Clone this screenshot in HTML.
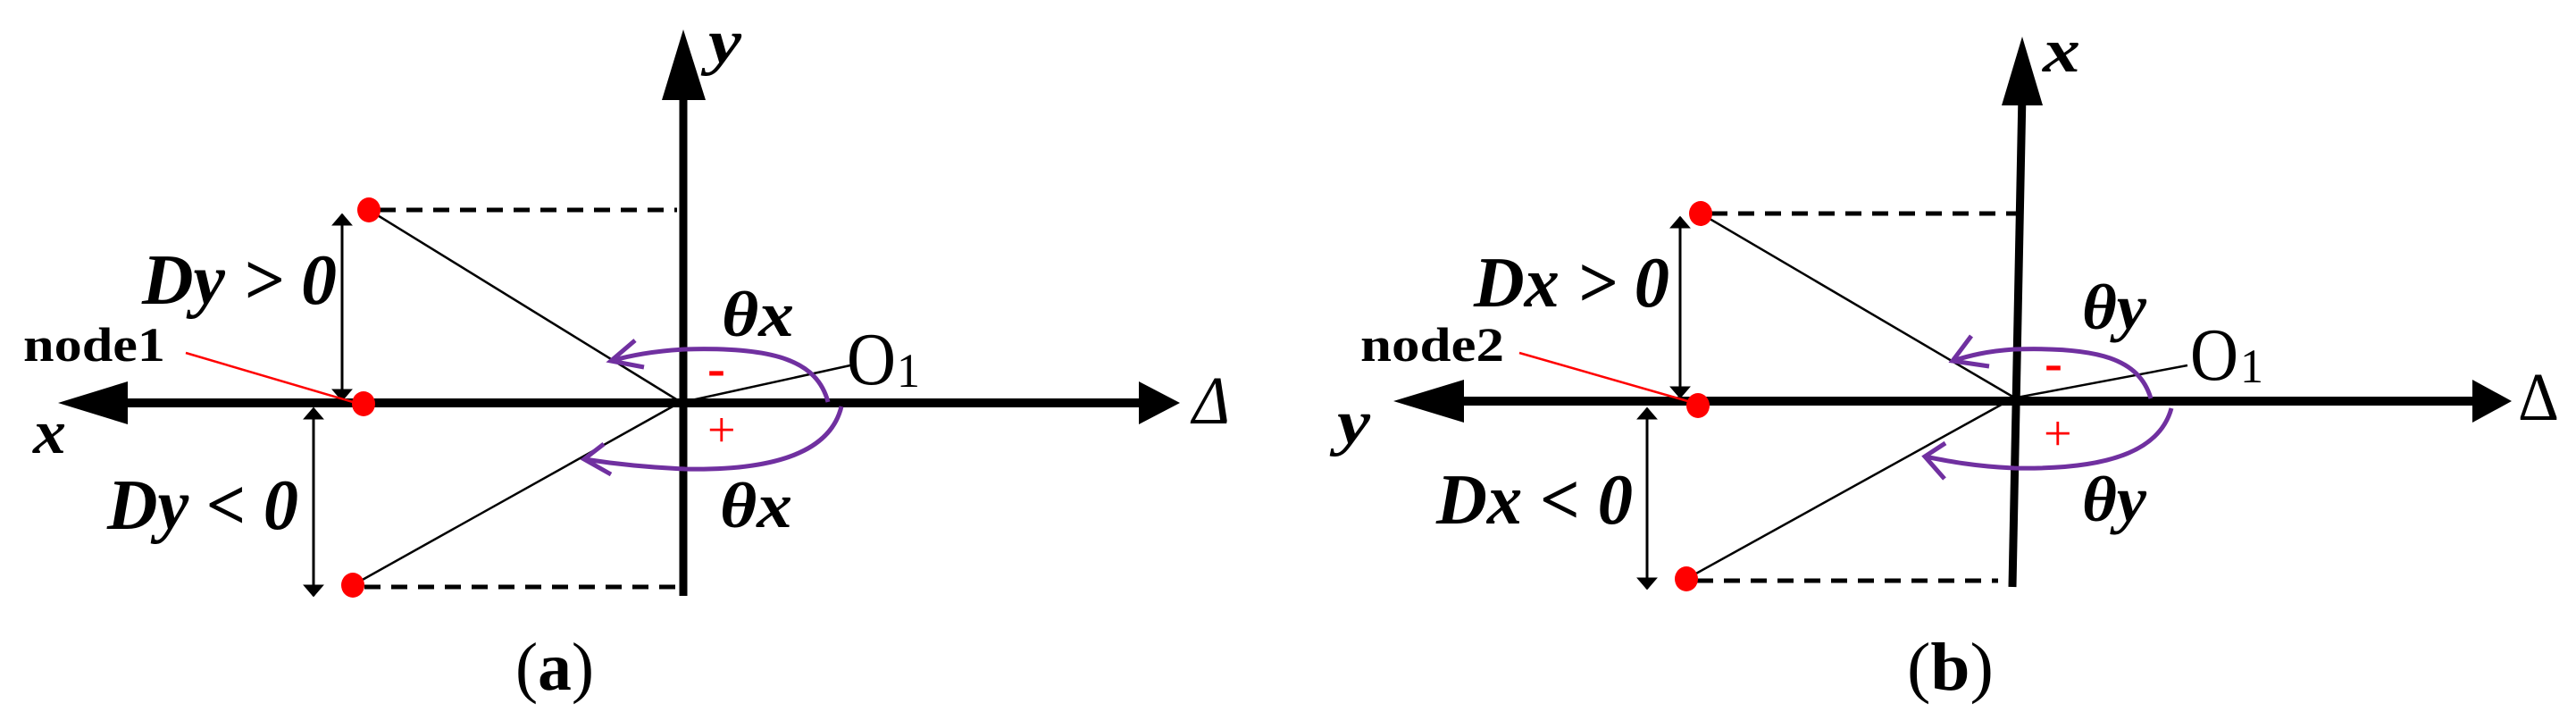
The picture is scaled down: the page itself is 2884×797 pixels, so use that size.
<!DOCTYPE html>
<html><head><meta charset="utf-8"><style>
html,body{margin:0;padding:0;background:#fff;}
svg{display:block;}
svg text{font-family:"Liberation Serif","Times New Roman","DejaVu Serif",serif !important;}
</style></head><body>
<svg width="2884" height="797" viewBox="0 0 2884 797" xmlns="http://www.w3.org/2000/svg" font-family="Liberation Serif, serif">
<defs>
<marker id="sa" viewBox="0 0 10 10" refX="9" refY="5" markerWidth="14" markerHeight="24" markerUnits="userSpaceOnUse" orient="auto-start-reverse" preserveAspectRatio="none"><path d="M0,0 L10,5 L0,10 z" fill="#000"/></marker>
</defs>

<!-- ===== Panel (a) ===== -->
<g>
<line x1="765" y1="100" x2="765" y2="667" stroke="#000" stroke-width="9"/>
<polygon points="765,33 741,112 790,112" fill="#000"/>
<line x1="135" y1="451" x2="1285" y2="451" stroke="#000" stroke-width="10"/>
<polygon points="65,451 143,427 143,475" fill="#000"/>
<polygon points="1321,451 1275,427 1275,475" fill="#000"/>
<line x1="425" y1="235" x2="758" y2="235" stroke="#000" stroke-width="5" stroke-dasharray="18,12"/>
<line x1="408" y1="657" x2="758" y2="657" stroke="#000" stroke-width="5" stroke-dasharray="18,12"/>
<line x1="413" y1="235" x2="762" y2="450" stroke="#000" stroke-width="2.5"/>
<line x1="395" y1="655" x2="762" y2="450" stroke="#000" stroke-width="2.5"/>
<line x1="765" y1="450" x2="952" y2="409" stroke="#000" stroke-width="2.5"/>
<line x1="383" y1="240" x2="383" y2="448" stroke="#000" stroke-width="3" marker-start="url(#sa)" marker-end="url(#sa)"/>
<line x1="351" y1="457" x2="351" y2="667" stroke="#000" stroke-width="3" marker-start="url(#sa)" marker-end="url(#sa)"/>
<line x1="208" y1="395" x2="395" y2="450" stroke="#f00" stroke-width="2.5"/>
<path d="M927,450 C915,405 870,388 767,391 C730,393 705,398 684,404" fill="none" stroke="#7030a0" stroke-width="5"/>
<polyline points="711,381 684,404 721,411" fill="none" stroke="#7030a0" stroke-width="5"/>
<path d="M942,455 C930,505 870,527 767,525 C720,523 680,518 654,514" fill="none" stroke="#7030a0" stroke-width="5"/>
<polyline points="684,531 654,514 676,497" fill="none" stroke="#7030a0" stroke-width="5"/>
<ellipse cx="413" cy="235" rx="13" ry="14" fill="#f00"/>
<ellipse cx="407" cy="452" rx="13" ry="14" fill="#f00"/>
<ellipse cx="395" cy="655" rx="13" ry="14" fill="#f00"/>
<text x="159" y="340" font-size="80" font-weight="bold" font-style="italic" textLength="218" lengthAdjust="spacingAndGlyphs">Dy &gt; 0</text>
<text x="120" y="592" font-size="80" font-weight="bold" font-style="italic" textLength="214" lengthAdjust="spacingAndGlyphs">Dy &lt; 0</text>
<text x="26" y="404" font-size="54" font-weight="bold" textLength="159" lengthAdjust="spacingAndGlyphs">node1</text>
<text x="808" y="376" font-size="72" font-weight="bold" font-style="italic" textLength="81" lengthAdjust="spacingAndGlyphs">θx</text>
<text x="806" y="590" font-size="72" font-weight="bold" font-style="italic" textLength="81" lengthAdjust="spacingAndGlyphs">θx</text>
<text x="792" y="432" font-size="60" font-weight="bold" fill="#f00">-</text>
<text x="792" y="500" font-size="56" fill="#f00">+</text>
<text x="948" y="430" font-size="84" textLength="55" lengthAdjust="spacingAndGlyphs">O</text>
<text x="1004" y="433" font-size="54" textLength="26" lengthAdjust="spacingAndGlyphs">1</text>
<text x="1335" y="474" font-size="76" font-style="italic" textLength="42" lengthAdjust="spacingAndGlyphs">Δ</text>
<text x="37" y="507" font-size="70" font-weight="bold" font-style="italic" textLength="37" lengthAdjust="spacingAndGlyphs">x</text>
<text x="793" y="70" font-size="70" font-weight="bold" font-style="italic" textLength="37" lengthAdjust="spacingAndGlyphs">y</text>
<text x="577" y="772" font-size="76" textLength="88" lengthAdjust="spacingAndGlyphs">(<tspan font-weight="bold">a</tspan>)</text>
</g>

<!-- ===== Panel (b) ===== -->
<g>
<line x1="2264" y1="105" x2="2253" y2="657" stroke="#000" stroke-width="9"/>
<polygon points="2264,41 2241,118 2287,118" fill="#000"/>
<line x1="1630" y1="449" x2="2775" y2="449" stroke="#000" stroke-width="10"/>
<polygon points="1560,449 1639,425 1639,473" fill="#000"/>
<polygon points="2812,449 2768,425 2768,473" fill="#000"/>
<line x1="1916" y1="239" x2="2262" y2="239" stroke="#000" stroke-width="5" stroke-dasharray="18,12"/>
<line x1="1900" y1="650" x2="2237" y2="650" stroke="#000" stroke-width="5" stroke-dasharray="18,12"/>
<line x1="1904" y1="239" x2="2255" y2="445" stroke="#000" stroke-width="2.5"/>
<line x1="1888" y1="648" x2="2255" y2="445" stroke="#000" stroke-width="2.5"/>
<line x1="2258" y1="445" x2="2449" y2="409" stroke="#000" stroke-width="2.5"/>
<line x1="1881" y1="243" x2="1881" y2="445" stroke="#000" stroke-width="3" marker-start="url(#sa)" marker-end="url(#sa)"/>
<line x1="1844" y1="457" x2="1844" y2="659" stroke="#000" stroke-width="3" marker-start="url(#sa)" marker-end="url(#sa)"/>
<line x1="1701" y1="395" x2="1893" y2="450" stroke="#f00" stroke-width="2.5"/>
<path d="M2408,446 C2395,402 2350,388 2255,391 C2225,393 2205,398 2186,404" fill="none" stroke="#7030a0" stroke-width="5"/>
<polyline points="2207,376 2186,404 2227,410" fill="none" stroke="#7030a0" stroke-width="5"/>
<path d="M2431,457 C2418,505 2360,526 2255,524 C2210,522 2180,516 2155,511" fill="none" stroke="#7030a0" stroke-width="5"/>
<polyline points="2177,536 2155,511 2178,496" fill="none" stroke="#7030a0" stroke-width="5"/>
<ellipse cx="1904" cy="239" rx="13" ry="14" fill="#f00"/>
<ellipse cx="1901" cy="454" rx="13" ry="14" fill="#f00"/>
<ellipse cx="1888" cy="648" rx="13" ry="14" fill="#f00"/>
<text x="1650" y="343" font-size="80" font-weight="bold" font-style="italic" textLength="219" lengthAdjust="spacingAndGlyphs">Dx &gt; 0</text>
<text x="1608" y="586" font-size="80" font-weight="bold" font-style="italic" textLength="220" lengthAdjust="spacingAndGlyphs">Dx &lt; 0</text>
<text x="1523" y="404" font-size="54" font-weight="bold" textLength="161" lengthAdjust="spacingAndGlyphs">node2</text>
<text x="2331" y="368" font-size="72" font-weight="bold" font-style="italic" textLength="72" lengthAdjust="spacingAndGlyphs">θy</text>
<text x="2331" y="583" font-size="72" font-weight="bold" font-style="italic" textLength="72" lengthAdjust="spacingAndGlyphs">θy</text>
<text x="2289" y="426" font-size="60" font-weight="bold" fill="#f00">-</text>
<text x="2288" y="504" font-size="56" fill="#f00">+</text>
<text x="2452" y="425" font-size="84" textLength="54" lengthAdjust="spacingAndGlyphs">O</text>
<text x="2508" y="428" font-size="54" textLength="26" lengthAdjust="spacingAndGlyphs">1</text>
<text x="2819" y="470" font-size="76" textLength="46" lengthAdjust="spacingAndGlyphs">Δ</text>
<text x="1497" y="496" font-size="70" font-weight="bold" font-style="italic" textLength="37" lengthAdjust="spacingAndGlyphs">y</text>
<text x="2287" y="80" font-size="70" font-weight="bold" font-style="italic" textLength="42" lengthAdjust="spacingAndGlyphs">x</text>
<text x="2135" y="772" font-size="76" textLength="97" lengthAdjust="spacingAndGlyphs">(<tspan font-weight="bold">b</tspan>)</text>
</g>
</svg>
</body></html>
